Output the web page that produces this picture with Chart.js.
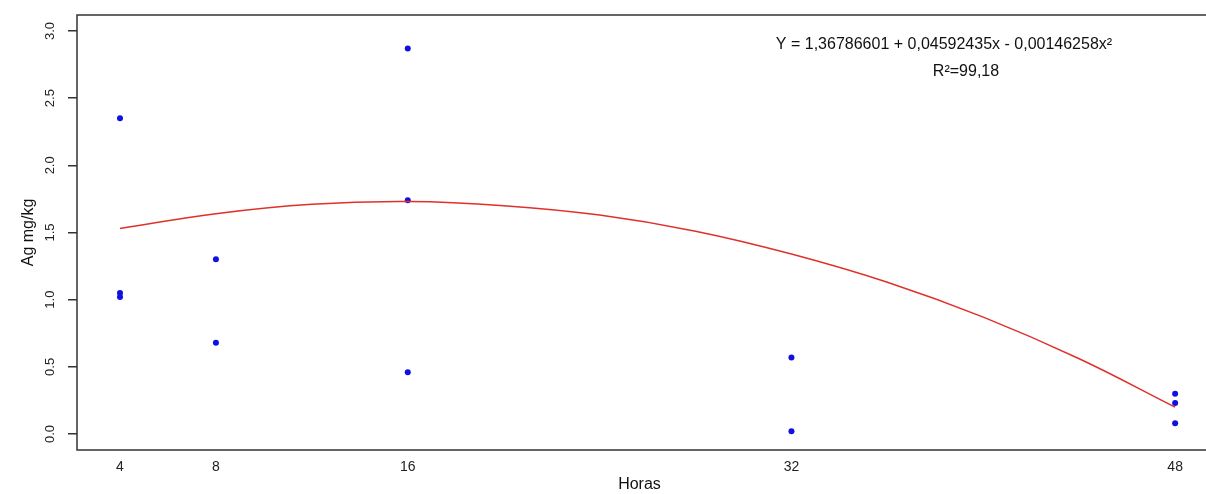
<!DOCTYPE html>
<html>
<head>
<meta charset="utf-8">
<script src="https://cdn.jsdelivr.net/npm/chart.js@4.4.1/dist/chart.umd.min.js"></script>
<style>
    html, body { margin: 0; padding: 0; background: #fff; }
    #wrap { width: 1206px; height: 494px; }
</style>
</head>
<body>
<div id="wrap"><canvas id="chart"></canvas></div>
<script>
        // Observed values (hours vs Ag mg/kg)
        const hours = [4, 4, 4, 8, 8, 16, 16, 16, 32, 32, 48, 48, 48];
        const agValues = [2.35, 1.05, 1.02, 1.30, 0.68, 2.87, 1.74, 0.46, 0.57, 0.02, 0.30, 0.23, 0.08];

        // Fitted curve
        const curveHours = [4, 8, 12, 16, 20, 24, 28, 32, 36, 40, 44, 48];
        const curveValues = [1.53, 1.64, 1.71, 1.73, 1.70, 1.63, 1.51, 1.34, 1.13, 0.87, 0.56, 0.20];

        // Axis ticks
        const xTicks = [4, 8, 16, 32, 48];
        const yTicks = [0, 0.5, 1, 1.5, 2, 2.5, 3];

        const equationText = 'Y = 1,36786601 + 0,04592435x - 0,00146258x²';
        const r2Text = 'R²=99,18';

        const FONT = '"Liberation Sans", Arial, sans-serif';
        const AXIS = '#333';

        // Box around plot, rotated y tick labels and equation text
        const framePlugin = {
            id: 'frame',
            afterDraw(chart) {
                const { ctx, chartArea: a } = chart;
                const yScale = chart.scales.y;
                ctx.save();
                ctx.strokeStyle = AXIS;
                ctx.lineWidth = 1.5;
                ctx.beginPath();
                ctx.moveTo(chart.width, a.top);
                ctx.lineTo(a.left, a.top);
                ctx.lineTo(a.left, a.bottom);
                ctx.lineTo(chart.width, a.bottom);
                ctx.stroke();

                // y tick labels, reading bottom to top
                ctx.fillStyle = '#222';
                ctx.font = '13px ' + FONT;
                ctx.textAlign = 'center';
                ctx.textBaseline = 'middle';
                yTicks.forEach(v => {
                    const py = yScale.getPixelForValue(v);
                    ctx.save();
                    ctx.translate(a.left - 27, py);
                    ctx.rotate(-Math.PI / 2);
                    ctx.fillText(v.toFixed(1), 0, 0);
                    ctx.restore();
                });

                ctx.fillStyle = '#111';
                ctx.font = '16px ' + FONT;
                ctx.fillText(equationText, 944, 45);
                ctx.fillText(r2Text, 966, 72);
                ctx.restore();
            }
        };

        const pts = hours.map((h, i) => ({ x: h, y: agValues[i] }));
        const curve = curveHours.map((h, i) => ({ x: h, y: curveValues[i] }));

        new Chart(document.getElementById('chart'), {
            type: 'scatter',
            data: {
                datasets: [
                    {
                        type: 'line',
                        data: curve,
                        borderColor: '#e0302a',
                        borderWidth: 1.5,
                        pointRadius: 0,
                        tension: 0.4,
                        fill: false
                    },
                    {
                        data: pts,
                        backgroundColor: '#1010e0',
                        borderColor: '#1010e0',
                        pointRadius: 3,
                        borderWidth: 0
                    }
                ]
            },
            options: {
                responsive: true,
                maintainAspectRatio: false,
                animation: false,
                layout: { padding: { top: 15, right: 0, left: 0, bottom: 0 } },
                plugins: {
                    legend: { display: false },
                    tooltip: { enabled: false }
                },
                scales: {
                    x: {
                        type: 'linear',
                        min: 2.207,
                        max: 49.12,
                        afterBuildTicks: s => { s.ticks = xTicks.map(v => ({ value: v })); },
                        afterFit: s => { s.height = 44; },
                        grid: { display: false, drawTicks: false },
                        border: { display: false },
                        ticks: {
                            color: '#222',
                            font: { family: FONT, size: 14 },
                            padding: 9,
                            maxRotation: 0,
                            autoSkip: false
                        },
                        title: {
                            display: true,
                            text: 'Horas',
                            color: '#111',
                            font: { family: FONT, size: 16 },
                            padding: { top: 0, bottom: 0 }
                        }
                    },
                    y: {
                        min: -0.119,
                        max: 3.119,
                        afterBuildTicks: s => { s.ticks = yTicks.map(v => ({ value: v })); },
                        afterFit: s => { s.width = 77; },
                        grid: {
                            drawOnChartArea: false,
                            drawTicks: true,
                            tickLength: 9,
                            color: AXIS,
                            lineWidth: 1.5
                        },
                        border: { display: false },
                        ticks: { display: false },
                        title: {
                            display: true,
                            text: 'Ag mg/kg',
                            color: '#111',
                            font: { family: FONT, size: 16 },
                            padding: { top: 19, bottom: 0 }
                        }
                    }
                }
            },
            plugins: [framePlugin]
        });
</script>
</body>
</html>
